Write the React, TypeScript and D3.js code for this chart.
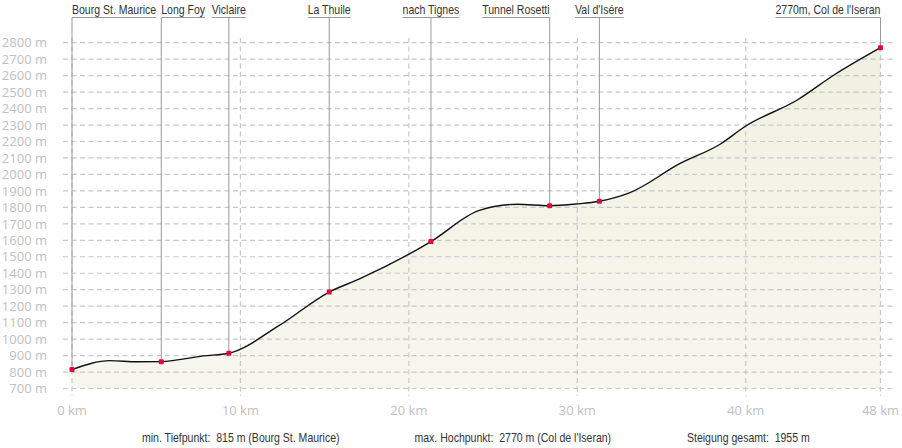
import React, { useEffect, useRef } from "react";
import * as d3 from "d3";

const distKm = [0, 2.26, 3.9, 5.3, 7.8, 9.31, 12.26, 15.27, 17.1, 21.31, 24.14, 26.42, 28.36, 30, 31.31, 33.05, 36.13, 38.5, 40, 43.06, 45.24, 48];
const elevM = [815, 869, 862, 863, 898, 914, 1080, 1286, 1367, 1592, 1780, 1819, 1810, 1821, 1837, 1886, 2068, 2185, 2294, 2452, 2604, 2770];

const stopNames = ["Bourg St. Maurice", "Long Foy", "Viclaire", "La Thuile", "nach Tignes", "Tunnel Rosetti", "Val d'Isére", "2770m, Col de l'Iseran"];
const stopKm = [0, 5.3, 9.31, 15.27, 21.31, 28.36, 31.31, 48];
const stopElev = [815, 863, 914, 1286, 1592, 1810, 1837, 2770];

const yTicks = d3.range(700, 2801, 100);
const xTicks = [0, 10, 20, 30, 40, 48];

const summaryTexts = [
  "min. Tiefpunkt:  815 m (Bourg St. Maurice)",
  "max. Hochpunkt:  2770 m (Col de l'Iseran)",
  "Steigung gesamt:  1955 m",
];

const W = 902;
const H = 448;
const NARROW = "'Liberation Sans', Arial, sans-serif";
const SX = 0.81;
const AXISFONT = "'Open Sans', 'DejaVu Sans', sans-serif";

export default function App() {
  const ref = useRef<SVGSVGElement | null>(null);

  useEffect(() => {
    const svg = d3.select(ref.current);
    svg.selectAll("*").remove();

    const x = d3.scaleLinear().domain([0, 48]).range([72, 880.5]);
    const y = d3.scaleLinear().domain([700, 2800]).range([388.5, 42.7]);

    const defs = svg.append("defs");
    const grad = defs.append("linearGradient").attr("id", "fillGrad").attr("x1", 0).attr("y1", 0).attr("x2", 0).attr("y2", 1);
    grad.append("stop").attr("offset", "0%").attr("stop-color", "#f0f0e2");
    grad.append("stop").attr("offset", "100%").attr("stop-color", "#f7f7ee");

    const pts = distKm.map((d, i) => [d, elevM[i]] as [number, number]);

    const area = d3.area<[number, number]>()
      .x((d) => x(d[0]))
      .y0(y(700))
      .y1((d) => y(d[1]))
      .curve(d3.curveMonotoneX);
    svg.append("path").attr("d", area(pts) as string).attr("fill", "url(#fillGrad)");

    const gy = svg.append("g");
    yTicks.forEach((t) => {
      gy.append("line")
        .attr("x1", 63).attr("x2", 894)
        .attr("y1", y(t)).attr("y2", y(t))
        .attr("stroke", "#c8c8c8").attr("stroke-width", 1.2)
        .attr("stroke-dasharray", "5,3.5");
      gy.append("text")
        .attr("x", 47).attr("y", y(t)).attr("dy", "0.36em")
        .attr("text-anchor", "end")
        .attr("font-family", AXISFONT).attr("font-size", 13)
        .attr("fill", "#c0c0c0")
        .text(`${t} m`);
    });

    xTicks.forEach((t) => {
      svg.append("line")
        .attr("x1", x(t)).attr("x2", x(t))
        .attr("y1", 38).attr("y2", 396)
        .attr("stroke", "#c8c8c8").attr("stroke-width", 1.2)
        .attr("stroke-dasharray", "5,3.5");
      svg.append("text")
        .attr("x", x(t)).attr("y", 415)
        .attr("text-anchor", "middle")
        .attr("font-family", AXISFONT).attr("font-size", 13)
        .attr("fill", "#c0c0c0")
        .text(`${t} km`);
    });

    const line = d3.line<[number, number]>()
      .x((d) => x(d[0]))
      .y((d) => y(d[1]))
      .curve(d3.curveMonotoneX);
    svg.append("path").attr("d", line(pts) as string)
      .attr("fill", "none").attr("stroke", "#111").attr("stroke-width", 1.4);

    const lblG = svg.append("g");
    const texts = stopNames.map((name) =>
      lblG.append("text")
        .attr("x", 0).attr("y", 0)
        .attr("font-family", NARROW).attr("font-size", 13)
        .attr("fill", "#333")
        .text(name)
    );
    const widths = texts.map((t) => (t.node() as SVGTextElement).getComputedTextLength() * SX);
    const cx = stopKm.map((k) => x(k));
    const left: number[] = [];
    const n = stopNames.length;
    const GAP = 3;
    for (let i = 0; i < n; i++) {
      let l = cx[i] - widths[i] / 2;
      if (i === 0) l = cx[i];
      else if (i === n - 1) l = cx[i] - widths[i];
      else {
        const prevRight = left[i - 1] + widths[i - 1];
        const nextLeft = i + 1 === n - 1 ? cx[i + 1] - widths[i + 1] : cx[i + 1] - widths[i + 1] / 2;
        if (l < prevRight + GAP) l = cx[i];
        else if (l + widths[i] > nextLeft - GAP) l = cx[i] - widths[i];
      }
      left.push(l);
    }
    texts.forEach((t, i) => t.attr("transform", `translate(${left[i]},14) scale(${SX},1)`));

    stopNames.forEach((_, i) => {
      lblG.append("line")
        .attr("x1", left[i]).attr("x2", left[i] + widths[i])
        .attr("y1", 17.5).attr("y2", 17.5)
        .attr("stroke", "#999").attr("stroke-width", 1);
      lblG.append("line")
        .attr("x1", cx[i]).attr("x2", cx[i])
        .attr("y1", 17.5).attr("y2", y(stopElev[i]))
        .attr("stroke", "#999").attr("stroke-width", 1);
    });

    stopKm.forEach((k, i) => {
      svg.append("rect")
        .attr("x", x(k) - 2.5).attr("y", y(stopElev[i]) - 2.5)
        .attr("width", 5).attr("height", 5).attr("rx", 1.2)
        .attr("fill", "#e2063f");
    });

    summaryTexts.forEach((s, i) => {
      svg.append("text")
        .attr("x", 0).attr("y", 0)
        .attr("transform", `translate(${142 + i * 272.5},441.5) scale(${SX},1)`)
        .attr("font-family", NARROW).attr("font-size", 13)
        .attr("fill", "#333")
        .style("white-space", "pre")
        .text(s);
    });
  }, []);

  return (
    <svg
      ref={ref}
      width={W}
      height={H}
      style={{ position: "absolute", left: 0, top: 0, background: "#fff" }}
    />
  );
}
